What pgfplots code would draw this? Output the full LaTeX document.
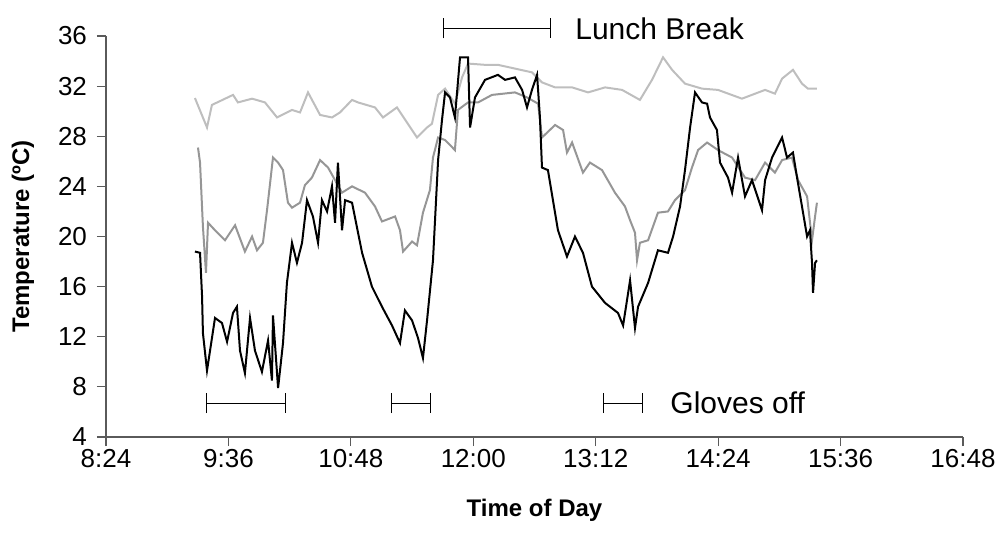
\documentclass[border=0pt]{standalone}
\usepackage{fontspec}
\setmainfont{Liberation Sans}
\usepackage{pgfplots}
\pgfplotsset{compat=1.18}
\usetikzlibrary{arrows.meta}
\definecolor{lgray}{RGB}{190,190,190}
\definecolor{mgray}{RGB}{150,150,150}
\definecolor{axgray}{RGB}{90,90,90}
\begin{document}
\begin{tikzpicture}
\useasboundingbox (-53pt,-53pt) rectangle (448pt,218.5pt);
\begin{axis}[
  at={(0,0)}, anchor=south west,
  scale only axis, width=428.5pt, height=200.5pt,
  xmin=504, xmax=1008, ymin=4, ymax=36,
  xtick={504,576,648,720,792,864,936,1008},
  xticklabels={8:24,9:36,10:48,12:00,13:12,14:24,15:36,16:48},
  ytick={4,8,...,36},
  axis x line*=bottom, axis y line*=left,
  axis line style={axgray, line width=0.6pt},
  tick style={axgray, line width=0.6pt},
  tick align=outside, major tick length=4.5pt,
  tick label style={font=\fontsize{13}{14}\selectfont, black},
  xticklabel style={yshift=2pt},
  yticklabel style={xshift=-1.5pt},
  /pgf/number format/assume math mode=true,
  xlabel={\textbf{Time of Day}},
  ylabel={\textbf{Temperature (ºC)}},
  label style={font=\fontsize{12}{13}\selectfont},
  xlabel style={at={(axis description cs:0.5,-0.182)}, anchor=center},
  ylabel style={at={(axis description cs:-0.0968,0.5)}, anchor=center},
  clip=false,
]
% light gray series
\addplot[lgray, line width=1pt] coordinates {
(556.3,31.05) (563.4,28.7) (566.3,30.5) (578.7,31.3) (581.6,30.7) (589.9,31.0) (597.5,30.7) (604.6,29.5) (613.4,30.1) (618.1,29.9) (622.8,31.5) (629.9,29.7) (636.9,29.5) (641.6,29.9) (648.7,30.9) (652.2,30.7) (662.2,30.3) (666.9,29.5) (675.1,30.3) (681.0,29.1) (686.9,27.9) (692.8,28.7) (695.7,29.0) (699.3,31.3) (703.4,31.8) (709.2,30.6) (713.4,32.7) (716.9,33.8) (726.9,33.7) (734.5,33.7) (744.5,33.4) (754.5,33.1) (760.4,32.3) (768.1,31.9) (778.1,31.9) (787.5,31.5) (797.5,31.9) (807.5,31.7) (818.0,30.9) (825.1,32.5) (831.6,34.3) (836.9,33.3) (844.5,32.2) (854.5,31.8) (863.9,31.7) (878.0,31.0) (891.6,31.7) (897.4,31.4) (901.6,32.6) (908.0,33.3) (913.3,32.2) (916.8,31.8) (922.1,31.8)
};
% medium gray series
\addplot[mgray, line width=1pt] coordinates {
(558.1,27.1) (559.3,25.9) (561.0,20.8) (562.8,17.1) (564.0,21.1) (568.1,20.5) (574.0,19.7) (579.9,20.9) (585.7,18.8) (589.9,20.0) (592.8,18.9) (596.3,19.5) (598.7,22.1) (602.2,26.3) (605.2,25.9) (608.1,25.3) (611.0,22.7) (613.4,22.3) (618.1,22.7) (621.0,24.1) (625.1,24.7) (629.9,26.1) (634.6,25.5) (642.8,23.5) (648.7,24.0) (656.3,23.5) (662.2,22.4) (666.3,21.2) (674.0,21.6) (676.9,20.5) (678.7,18.8) (684.0,19.6) (686.9,19.3) (690.4,21.9) (694.5,23.7) (696.3,26.3) (699.3,27.9) (703.4,27.7) (709.2,26.9) (711.0,30.1) (716.9,30.7) (722.8,30.7) (731.0,31.3) (744.5,31.5) (751.6,31.1) (758.1,30.6) (760.4,27.9) (768.1,28.9) (772.8,28.5) (775.1,26.7) (778.1,27.5) (784.5,25.1) (788.6,25.9) (795.7,25.3) (803.3,23.5) (809.2,22.4) (812.2,21.3) (815.1,20.3) (816.3,18.1) (818.0,19.5) (822.8,19.7) (828.6,21.9) (834.5,22.0) (838.6,22.9) (844.5,23.7) (848.6,25.5) (852.2,26.9) (857.5,27.5) (863.9,26.9) (872.2,26.3) (879.8,24.7) (885.7,24.5) (891.6,25.9) (897.4,25.1) (901.6,26.1) (907.4,26.3) (911.0,24.5) (916.3,23.2) (919.2,19.7) (921.0,21.6) (922.1,22.7)
};
% black series
\addplot[black, line width=1pt] coordinates {
(556.3,18.8) (559.3,18.7) (560.5,15.2) (561.0,12.3) (563.4,9.3) (565.2,10.9) (568.1,13.5) (572.2,13.1) (575.2,11.6) (578.7,13.9) (581.0,14.4) (582.8,10.9) (585.7,9.1) (588.7,13.5) (591.6,10.9) (595.7,9.2) (599.3,11.7) (601.6,8.5) (602.2,13.7) (605.2,7.9) (608.1,11.5) (610.4,16.3) (613.4,19.5) (616.3,17.9) (619.3,19.5) (622.2,22.9) (625.7,21.6) (628.7,19.5) (631.0,22.9) (634.0,22.0) (636.9,24.0) (638.7,21.1) (640.4,25.9) (642.8,20.5) (644.6,22.9) (648.7,22.7) (654.6,18.7) (660.4,16.0) (666.3,14.4) (672.2,12.9) (676.9,11.5) (679.8,14.1) (684.0,13.3) (687.5,11.9) (690.4,10.3) (692.8,13.3) (696.3,18.1) (699.3,26.1) (701.6,29.3) (703.4,31.5) (706.3,31.1) (709.2,29.5) (712.2,34.3) (716.9,34.3) (718.1,28.7) (721.0,31.1) (726.9,32.5) (734.5,32.9) (738.7,32.5) (744.5,32.7) (748.7,31.7) (751.6,30.3) (754.5,31.7) (757.5,32.9) (759.2,29.5) (760.4,25.5) (763.9,25.3) (769.8,20.5) (775.1,18.4) (779.8,20.0) (784.5,18.7) (789.8,16.0) (797.5,14.7) (805.1,13.9) (808.1,12.9) (812.2,16.5) (815.1,12.7) (816.9,14.4) (822.8,16.3) (828.6,18.9) (834.5,18.7) (837.5,20.0) (841.6,22.4) (844.5,25.3) (847.5,28.7) (850.4,31.5) (854.5,30.7) (857.5,30.6) (859.2,29.5) (863.3,28.5) (865.1,25.9) (869.8,24.7) (872.2,23.5) (875.7,26.3) (879.8,23.2) (883.9,24.5) (889.8,22.1) (891.6,24.5) (895.7,26.3) (898.6,27.1) (901.6,27.9) (904.5,26.3) (908.0,26.7) (910.4,24.7) (913.3,22.4) (916.3,20.0) (918.0,20.5) (919.2,17.9) (919.8,15.5) (921.0,17.9) (922.1,18.1)
};
% annotation bars
\addplot[black, line width=0.5pt, {Bar[width=10pt]}-{Bar[width=10pt]}] coordinates {(702.2,36.6) (765.7,36.6)};
\addplot[black, line width=0.5pt, {Bar[width=10pt]}-{Bar[width=10pt]}] coordinates {(562.8,6.71) (609.9,6.71)};
\addplot[black, line width=0.5pt, {Bar[width=10pt]}-{Bar[width=10pt]}] coordinates {(671.6,6.71) (695.1,6.71)};
\addplot[black, line width=0.5pt, {Bar[width=10pt]}-{Bar[width=10pt]}] coordinates {(796.3,6.71) (819.8,6.71)};
\node[anchor=west, inner sep=0pt, font=\fontsize{15}{16}\selectfont] at (axis cs:779.8,36.6) {Lunch Break};
\node[anchor=west, inner sep=0pt, font=\fontsize{15}{16}\selectfont] at (axis cs:835.7,6.71) {Gloves off};
\end{axis}
\end{tikzpicture}
\end{document}
